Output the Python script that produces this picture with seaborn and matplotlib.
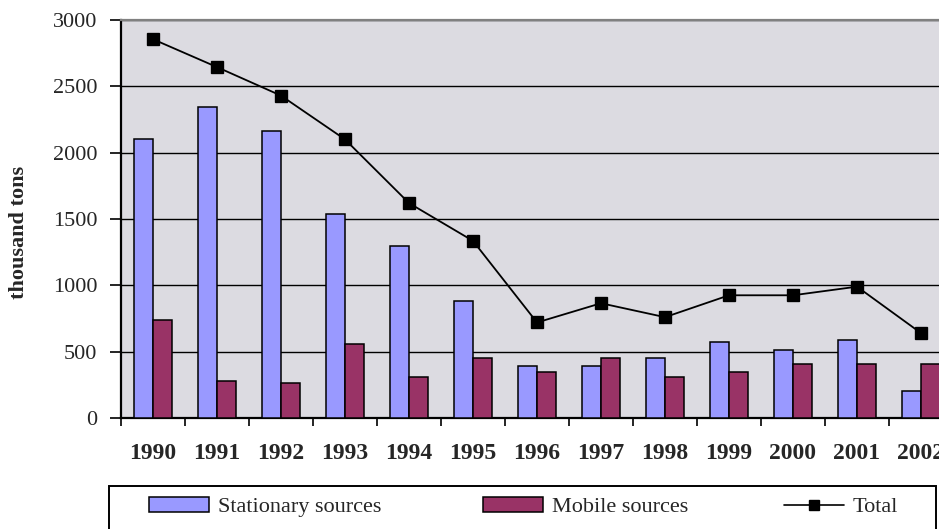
import matplotlib
matplotlib.use("Agg")
import matplotlib.pyplot as plt
import numpy as np
import pandas as pd
import seaborn as sns
from matplotlib.patches import Patch, Rectangle
from matplotlib.lines import Line2D

# Emissions by source, thousand tons
years = ["1990", "1991", "1992", "1993", "1994", "1995", "1996",
         "1997", "1998", "1999", "2000", "2001", "2002"]
stationary = [2105, 2345, 2165, 1540, 1295, 885, 390, 390, 450, 570, 510, 585, 205]
mobile = [735, 280, 265, 555, 310, 450, 345, 450, 310, 345, 405, 405, 405]
total = [2855, 2645, 2430, 2100, 1620, 1335, 720, 865, 760, 925, 925, 990, 640]
series_names = ["Stationary sources", "Mobile sources", "Total"]
y_ticks = [0, 500, 1000, 1500, 2000, 2500, 3000]

BLUE = "#9999FF"
PLUM = "#993366"
PANEL = "#DCDBE1"

sns.set_style("white")
plt.rcParams["font.family"] = ["Liberation Serif", "DejaVu Serif"]

df = pd.DataFrame({
    "year": years * 2,
    "source": [series_names[0]] * len(years) + [series_names[1]] * len(years),
    "value": stationary + mobile,
})

fig = plt.figure(figsize=(9.39, 5.29), dpi=100)
W, H = 939, 529
ax = fig.add_axes([121 / W, 1 - 418 / H, 832 / W, 398 / H])
ax.set_facecolor(PANEL)

sns.barplot(data=df, x="year", y="value", hue="source", order=years,
            hue_order=series_names[:2], palette=[BLUE, PLUM], width=0.6,
            saturation=1, edgecolor="black", linewidth=1.1, legend=False,
            zorder=3, ax=ax)

sns.pointplot(x=years, y=total, order=years, color="black", errorbar=None,
              marker="s", markersize=8, markeredgecolor="black",
              markerfacecolor="black", linewidth=1.3, zorder=5, ax=ax)

ax.set_xlim(-0.5, len(years) - 0.5)
ax.set_ylim(0, 3000)
ax.set_yticks(y_ticks)
ax.yaxis.grid(True, color="black", linewidth=1.0, zorder=0)
ax.xaxis.grid(False)
ax.set_axisbelow(True)

for side in ("left", "bottom"):
    ax.spines[side].set_color("black")
    ax.spines[side].set_linewidth(1.6)
for side in ("top", "right"):
    ax.spines[side].set_color("#808080")
    ax.spines[side].set_linewidth(1.6)

ax.tick_params(axis="y", direction="out", length=8, width=1.2, color="black",
               pad=9, labelsize=16, left=True)
ax.set_xticks(range(len(years)))
ax.set_xticklabels(years, fontsize=17, fontweight="bold")
ax.set_xticks(np.arange(-0.5, len(years), 1.0), minor=True)
ax.tick_params(axis="x", which="major", length=0, pad=18)
ax.tick_params(axis="x", which="minor", direction="out", length=6, width=1.2,
               color="black", bottom=True)

ax.set_xlabel("")
ax.set_ylabel("thousand tons", fontsize=16, fontweight="bold")
ax.yaxis.set_label_coords((29 - 121) / 832, (418 - 232) / 398)

# Legend frame running along the bottom of the figure
fig.patches.append(Rectangle((109 / W, 1 - 545 / H), (936 - 109) / W, 59 / H,
                             transform=fig.transFigure, facecolor="white",
                             edgecolor="black", linewidth=1.4, clip_on=False))

handles = [
    Patch(facecolor=BLUE, edgecolor="black", linewidth=1.1),
    Patch(facecolor=PLUM, edgecolor="black", linewidth=1.1),
    Line2D([], [], color="black", linewidth=1.2, marker="s", markersize=7,
           markerfacecolor="black", markeredgecolor="black"),
]
for handle, label, x0 in zip(handles, series_names, (149, 483, 784)):
    fig.legend([handle], [label], loc="center left",
               bbox_to_anchor=(x0 / W, 1 - 507 / H), frameon=False,
               fontsize=16, handlelength=2.7, handleheight=0.65,
               handletextpad=0.4, borderpad=0, borderaxespad=0)

fig.savefig("out.png", dpi=100)
